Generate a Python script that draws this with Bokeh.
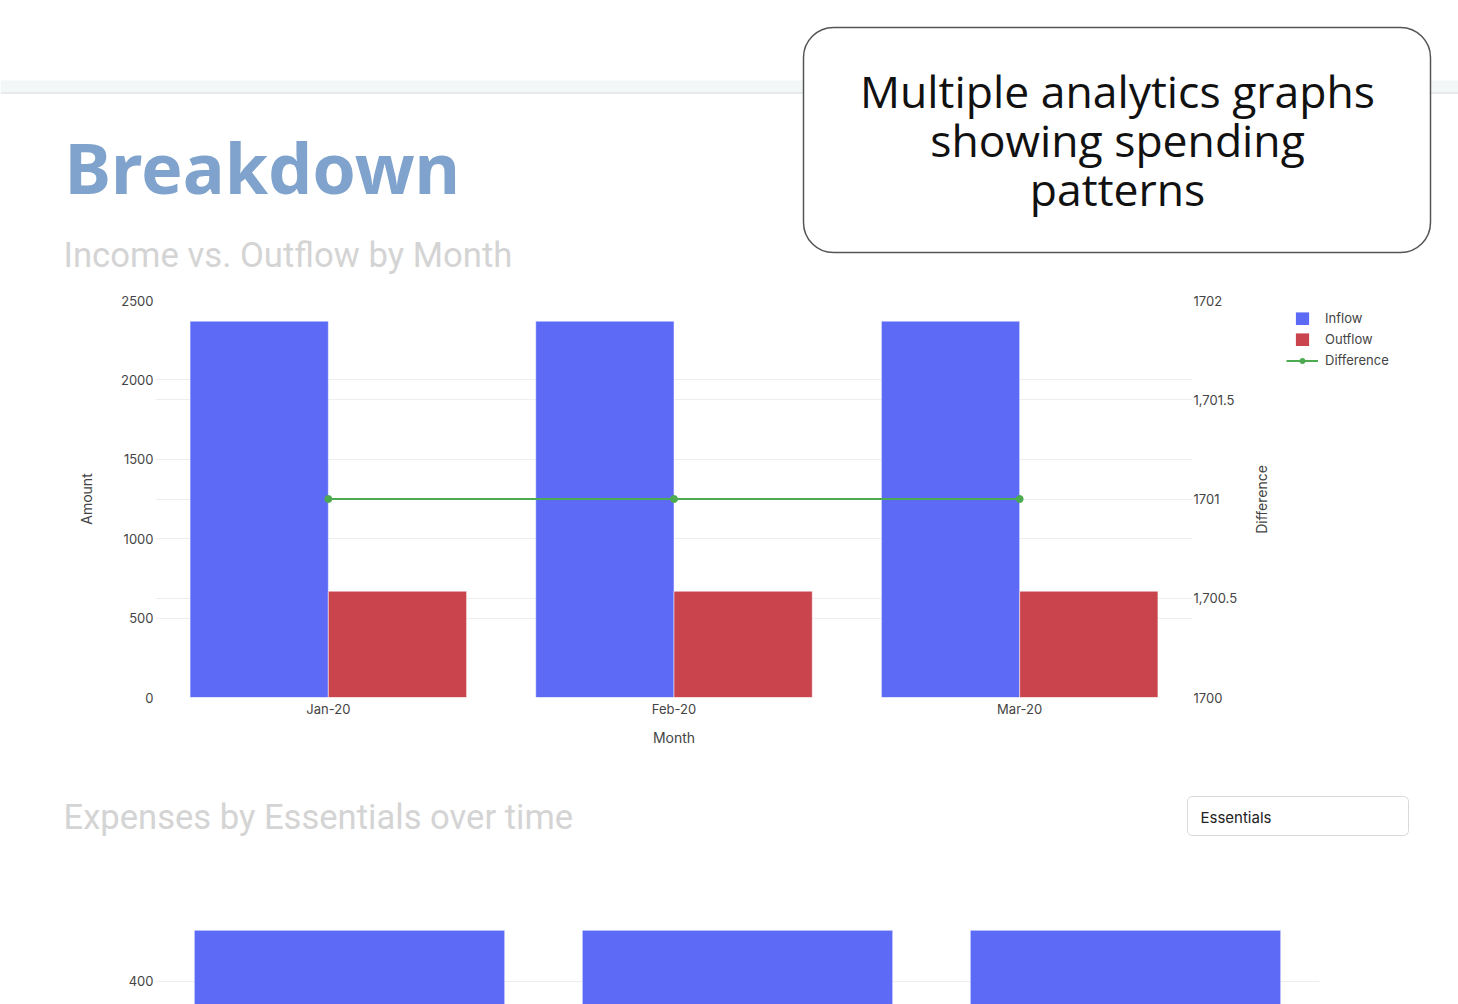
import math
from bokeh.plotting import figure
from bokeh.models import (ColumnDataSource, Range1d, FactorRange, LinearAxis, FixedTicker,
                          Grid, Legend, LegendItem, Label, BoxAnnotation)
from bokeh.transform import dodge
from bokeh.layouts import column, row
from bokeh.embed import file_html
from bokeh.resources import INLINE

# ---------------- data ----------------
months = ["Jan-20", "Feb-20", "Mar-20"]
inflow = [2370, 2370, 2370]
outflow = [669, 669, 669]
difference = [1701, 1701, 1701]
essentials = [460, 460, 460]

amount_ticks = [0, 500, 1000, 1500, 2000, 2500]
diff_ticks = [1700, 1700.5, 1701, 1701.5, 1702]
diff_tick_labels = ["1700", "1,700.5", "1701", "1,701.5", "1702"]
essentials_ticks = [400]
legend_labels = ["Inflow", "Outflow", "Difference"]

page_title = "Breakdown"
chart1_title = "Income vs. Outflow by Month"
chart2_title = "Expenses by Essentials over time"
callout_lines = ["Multiple analytics graphs", "showing spending", "patterns"]
dropdown_label = "Essentials"
right_axis_title = "Difference"

# ---------------- style ----------------
W = 1458
C_IN = "#5d6af5"
C_OUT = "#c9444c"
C_DIFF = "#4caa50"
TICK_FONT = "Inter"
TICK_COLOR = "#444444"
GRID = "#eeeeee"


def no_align(p):
    if "frame_align" in p.properties():
        p.frame_align = False
    return p


def canvas(w, h):
    p = figure(width=w, height=h, x_range=Range1d(0, w), y_range=Range1d(h, 0),
               min_border=0, toolbar_location=None, tools="", output_backend="svg",
               x_axis_location=None, y_axis_location=None, outline_line_color=None)
    p.grid.visible = False
    return no_align(p)


def style_axis(ax, standoff, label_standoff):
    ax.axis_line_color = None
    ax.major_tick_line_color = None
    ax.minor_tick_line_color = None
    ax.major_tick_out = 0
    ax.major_tick_in = 0
    ax.minor_tick_out = 0
    ax.minor_tick_in = 0
    ax.major_label_standoff = standoff
    ax.major_label_text_font = TICK_FONT
    ax.major_label_text_font_size = "13px"
    ax.major_label_text_color = TICK_COLOR
    ax.axis_label_text_font = TICK_FONT
    ax.axis_label_text_font_size = "14px"
    ax.axis_label_text_font_style = "normal"
    ax.axis_label_text_color = TICK_COLOR
    ax.axis_label_standoff = label_standoff


# ---------------- header ----------------
H0 = 280
hdr = canvas(W, H0)
hdr.quad(left=0, right=W, top=80, bottom=92, fill_color="#f3f7f8", line_color=None)
hdr.segment(x0=0, y0=92.5, x1=W, y1=92.5, line_color="#e0e5e7", line_width=1.5)
hdr.add_layout(Label(x=64, y=166, text=page_title, text_font="Noto Sans", text_font_style="bold",
                     text_font_size="70px", text_color="#7fa3cc", text_baseline="middle"))
hdr.add_layout(Label(x=63, y=254, text=chart1_title, text_font="Roboto",
                     text_font_size="34.7px", text_color="#d4d4d4", text_baseline="middle"))
hdr.add_layout(BoxAnnotation(left=803, right=1430, top=27, bottom=252, border_radius=30,
                             fill_color="white", fill_alpha=1, line_color="#555555",
                             line_width=1.5, line_alpha=1))
for i, t in enumerate(callout_lines):
    hdr.add_layout(Label(x=1117, y=90 + 49 * i, text=t, text_font="Open Sans", text_font_size="44.5px",
                         text_color="#111111", text_align="center", text_baseline="middle"))

# ---------------- chart 1 ----------------
W1 = 1245
H1 = 490
src = ColumnDataSource(dict(months=months, inflow=inflow, outflow=outflow, difference=difference))
p1 = figure(width=W1, height=H1, x_range=FactorRange(factors=months, range_padding=0),
            y_range=Range1d(0, 2500), min_border_left=155, min_border_right=53,
            min_border_top=20, min_border_bottom=73, toolbar_location=None, tools="",
            output_backend="svg", outline_line_color=None)
no_align(p1)
p1.extra_y_ranges = {"diff": Range1d(1700, 1702)}

p1.vbar(x=dodge("months", -0.2, range=p1.x_range), top="inflow", width=0.4, source=src,
        fill_color=C_IN, line_color="white", line_alpha=0.5, line_width=1)
p1.vbar(x=dodge("months", 0.2, range=p1.x_range), top="outflow", width=0.4, source=src,
        fill_color=C_OUT, line_color="white", line_alpha=0.5, line_width=1)
p1.line(x="months", y="difference", source=src, y_range_name="diff",
        line_color=C_DIFF, line_width=2)
p1.scatter(x="months", y="difference", source=src, y_range_name="diff",
           size=7, fill_color=C_DIFF, line_color=C_DIFF)

p1.xgrid.visible = False
p1.ygrid.ticker = FixedTicker(ticks=amount_ticks[:-1])
p1.ygrid.grid_line_color = GRID
p1.add_layout(Grid(dimension=1, ticker=FixedTicker(ticks=diff_ticks[:-1]), y_range_name="diff",
                   grid_line_color=GRID))

p1.yaxis.ticker = FixedTicker(ticks=amount_ticks)
p1.yaxis.axis_label = "Amount"
style_axis(p1.yaxis[0], 2, 23)
p1.xaxis.axis_label = "Month"
style_axis(p1.xaxis[0], 3, 9)

ax_r = LinearAxis(y_range_name="diff", ticker=FixedTicker(ticks=diff_ticks),
                  major_label_overrides=dict(zip(diff_ticks, diff_tick_labels)))
style_axis(ax_r, 1, 14)
p1.add_layout(ax_r, "right")

# ---------------- side panel (axis title + legend beside chart 1) ----------------
lg = canvas(W - W1, H1)
lg.add_layout(Label(x=1261 - W1, y=499 - H0, text=right_axis_title, angle=math.pi / 2,
                    text_font=TICK_FONT, text_font_size="14px", text_color=TICK_COLOR,
                    text_align="center", text_baseline="middle"))
nan = float("nan")
sw_in = lg.scatter(x=[nan], y=[nan], marker="square", size=1, fill_color=C_IN,
                   line_color=C_IN, line_width=8, line_join="miter")
sw_out = lg.scatter(x=[nan], y=[nan], marker="square", size=1, fill_color=C_OUT,
                    line_color=C_OUT, line_width=8, line_join="miter")
sw_ln = lg.line(x=[nan, nan], y=[nan, nan], line_color=C_DIFF, line_width=2)
sw_pt = lg.scatter(x=[nan], y=[nan], size=7, fill_color=C_DIFF, line_color=C_DIFF)
legend = Legend(items=[LegendItem(label=legend_labels[0], renderers=[sw_in]),
                       LegendItem(label=legend_labels[1], renderers=[sw_out]),
                       LegendItem(label=legend_labels[2], renderers=[sw_ln, sw_pt])],
                location=(1286 - W1, 402), border_line_color=None, background_fill_alpha=0,
                padding=0, margin=0, label_text_font=TICK_FONT, label_text_font_size="13px",
                label_text_color=TICK_COLOR, glyph_height=13, label_height=13, glyph_width=32,
                label_standoff=7, spacing=5)
lg.add_layout(legend)

# ---------------- section 2 title ----------------
H2 = 100
t2 = canvas(W, H2)
t2.add_layout(Label(x=63, y=46, text=chart2_title, text_font="Roboto",
                    text_font_size="34.6px", text_color="#d4d4d4", text_baseline="middle"))
t2.add_layout(BoxAnnotation(left=1187, right=1408, top=26, bottom=65, border_radius=5,
                            fill_color="white", fill_alpha=1, line_color="#d9d9d9",
                            line_width=1, line_alpha=1))
t2.add_layout(Label(x=1200, y=47, text=dropdown_label, text_font=TICK_FONT,
                    text_font_size="15px", text_color="#222222", text_baseline="middle"))
t2.line(x=[1388, 1391, 1394], y=[45, 42, 45], line_color="#777777", line_width=1.2)
t2.line(x=[1388, 1391, 1394], y=[49, 52, 49], line_color="#777777", line_width=1.2)

# ---------------- chart 2 (top part visible) ----------------
src2 = ColumnDataSource(dict(months=months, essentials=essentials))
p2 = figure(width=W, height=134, x_range=FactorRange(factors=months, range_padding=0),
            y_range=Range1d(373, 495), min_border_left=155, min_border_right=139,
            min_border_top=30, min_border_bottom=0, toolbar_location=None, tools="",
            output_backend="svg", outline_line_color=None, x_axis_location=None)
no_align(p2)
p2.vbar(x="months", top="essentials", bottom=0, width=0.8, source=src2,
        fill_color=C_IN, line_color="white", line_alpha=0.5, line_width=1)
p2.xgrid.visible = False
p2.ygrid.ticker = FixedTicker(ticks=essentials_ticks)
p2.ygrid.grid_line_color = GRID
p2.yaxis.ticker = FixedTicker(ticks=essentials_ticks)
style_axis(p2.yaxis[0], 2, 25)

layout = column(hdr, row(p1, lg, spacing=0), t2, p2, spacing=0)
open("out.html", "w").write(file_html(layout, INLINE))
